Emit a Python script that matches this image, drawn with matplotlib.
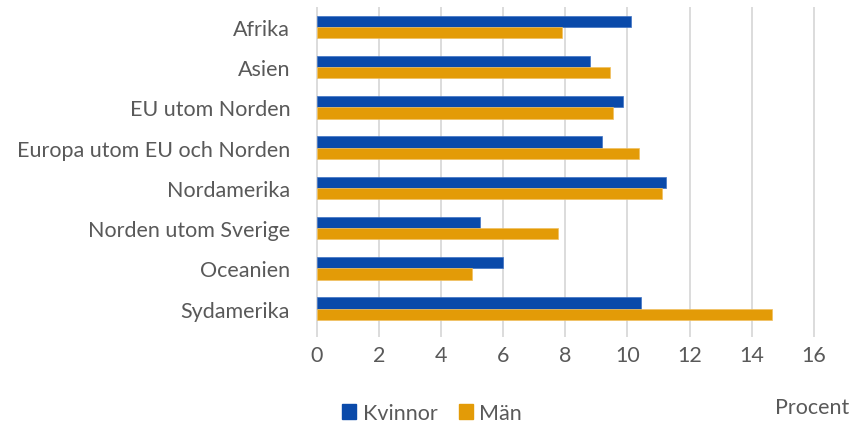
import numpy as np
import matplotlib
matplotlib.use("Agg")
import matplotlib.pyplot as plt
import matplotlib.patches as mpt

# data
regions = ["Afrika", "Asien", "EU utom Norden", "Europa utom EU och Norden",
           "Nordamerika", "Norden utom Sverige", "Oceanien", "Sydamerika"]
kvinnor = [10.12, 8.79, 9.86, 9.17, 11.25, 5.25, 5.99, 10.43]
man = [7.89, 9.45, 9.53, 10.36, 11.11, 7.77, 4.99, 14.64]
xticks = [0, 2, 4, 6, 8, 10, 12, 14, 16]

blue = '#0A4AAA'
orange = '#E39B07'
grey = '#595959'

plt.rcParams['font.family'] = ['Lato', 'DejaVu Sans']
fs = 15.5

fig = plt.figure(figsize=(8.61, 4.27), dpi=100)
ax = fig.add_axes([0.366, 0.209, 0.581, 0.773])

y = np.arange(len(regions))
h = 0.28
ax.barh(y - h/2, kvinnor, height=h, color=blue, edgecolor='#3F72C4', linewidth=0.5, zorder=3)
ax.barh(y + h/2, man, height=h, color=orange, edgecolor='#F0C060', linewidth=0.5, zorder=3)

ax.set_ylim(len(regions) - 0.3, -0.5)
ax.set_xlim(-0.05, 16.05)
ax.set_yticks(y)
ax.set_yticklabels(regions, fontsize=fs, color=grey)
ax.set_xticks(xticks)
ax.set_xticklabels([str(t) for t in xticks], fontsize=fs, color=grey)
ax.tick_params(axis='y', length=0, pad=18)
ax.tick_params(axis='x', length=0, pad=6)

ax.grid(axis='x', color='#D9D9D9', linewidth=1.3, zorder=0)
for sp in ax.spines.values():
    sp.set_visible(False)

# legend
handles = [mpt.Patch(color=blue), mpt.Patch(color=orange)]
fig.legend(handles, ["Kvinnor", "Män"], loc='center', bbox_to_anchor=(0.502, 0.03),
           ncol=2, frameon=False, fontsize=fs, handlelength=0.65, handleheight=0.65,
           handletextpad=0.3, columnspacing=1.0, labelcolor=grey)

fig.text(0.986, 0.022, "Procent", ha='right', va='bottom', fontsize=fs, color=grey)

fig.savefig("out.png", dpi=100)
